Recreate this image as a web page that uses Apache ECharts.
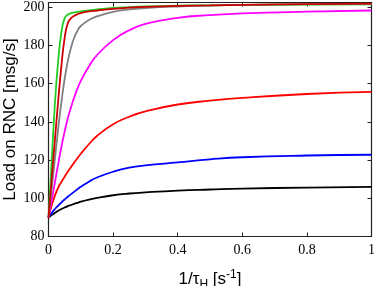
<!DOCTYPE html>
<html>
<head>
<meta charset="utf-8">
<script src="https://cdn.jsdelivr.net/npm/echarts@6/dist/echarts.min.js"></script>
<style>
html,body{margin:0;padding:0;background:#fff;}
#chart{width:374px;height:286px;}
</style>
</head>
<body>
<div id="chart"></div>
<script>
var xs          = [0,    0.01,  0.02,  0.03,  0.04,  0.05,  0.06,  0.07,  0.08,  0.09,  0.1,   0.125, 0.15,  0.2,   0.25,  0.3,   0.4,   0.5,   0.6,   0.8,   1.0];
var blackVals   = [89.8, 91.2,  92.4,  93.5,  94.4,  95.2,  95.9,  96.5,  97.1,  97.65, 98.2,  99.3,  100.2, 101.6, 102.5, 103.1, 104.0, 104.6, 105.1, 105.6, 106.0];
var blueVals    = [89.8, 92.3,  94.4,  96.2,  97.9,  99.4,  100.8, 102.2, 103.5, 104.8, 106.0, 108.7, 110.9, 113.9, 116.0, 117.2, 118.8, 120.4, 121.5, 122.4, 122.8];
var redVals     = [89.8, 96.3,  101.5, 105.6, 108.6, 111.3, 114.0, 116.4, 118.8, 121.1, 123.3, 128.3, 132.6, 138.8, 142.7, 145.5, 149.1, 151.1, 152.6, 154.6, 155.7];
var magentaVals = [89.8, 99.0,  108.5, 118.0, 127.0, 135.0, 142.0, 147.8, 153.0, 157.5, 161.5, 169.0, 175.0, 182.8, 188.0, 191.3, 194.5, 195.9, 196.8, 197.7, 198.3];
var grayVals    = [89.8, 105.0, 121.0, 136.5, 150.5, 162.5, 172.0, 179.0, 184.3, 187.8, 190.2, 193.3, 195.2, 197.6, 198.9, 199.6, 200.4, 200.9, 201.2, 201.6, 201.8];
var darkRedVals = [89.8, 110.5, 131.0, 151.0, 169.5, 184.0, 191.8, 194.3, 195.6, 196.4, 197.0, 197.8, 198.3, 199.2, 199.8, 200.2, 200.7, 201.0, 201.3, 201.6, 201.9];
var greenVals   = [89.8, 120.0, 150.0, 172.0, 187.0, 194.3, 196.2, 196.9, 197.3, 197.6, 197.8, 198.4, 198.9, 199.7, 200.1, 200.4, 200.8, 201.0, 201.2, 201.4, 201.5];
var xTicks = ['0', '0.2', '0.4', '0.6', '0.8', '1'];
var yTicks = ['80', '100', '120', '140', '160', '180', '200'];

function pairs(vals){ return xs.map(function(x,i){ return [x, vals[i]]; }); }

var seriesDefs = [
  {name:'black', color:'#000000', vals:blackVals},
  {name:'blue', color:'#0000ff', vals:blueVals},
  {name:'red', color:'#ff0000', vals:redVals},
  {name:'magenta', color:'#ff00ff', vals:magentaVals},
  {name:'green', color:'#22cc22', vals:greenVals},
  {name:'gray', color:'#808080', vals:grayVals},
  {name:'darkred', color:'#cc0000', vals:darkRedVals}
];

var serif = '"Liberation Serif","Times New Roman",serif';
var sans = '"Liberation Sans",Arial,sans-serif';
var frame = {show:true, onZero:false, lineStyle:{color:'#222', width:1.2}};

var chart = echarts.init(document.getElementById('chart'), null, {renderer:'canvas'});
chart.setOption({
  animation:false,
  backgroundColor:'#fff',
  grid:{left:48.5, right:2.5, top:2.5, bottom:49.5, containLabel:false, outerBoundsMode:'none'},
  xAxis:[{
    type:'value', min:0, max:1, interval:0.2, position:'bottom',
    axisLine:frame, splitLine:{show:false},
    axisTick:{show:true, inside:true, length:4, lineStyle:{color:'#222'}},
    axisLabel:{margin:7, color:'#000', fontFamily:serif, fontSize:14,
      formatter:function(v){ var i=Math.round(v/0.2); return Math.abs(v-i*0.2)<1e-6 ? xTicks[i] : ''; }},
    name:'1/τ{sub|H} [s{sup|-1}]', nameLocation:'middle', nameGap:32, nameMoveOverlap:false,
    nameTextStyle:{color:'#000', fontFamily:sans, fontSize:17,
      rich:{sub:{fontFamily:sans, fontSize:12, verticalAlign:'bottom', padding:[10,0,0,0]},
            sup:{fontFamily:sans, fontSize:12, verticalAlign:'top', padding:[0,0,10,0]}}}
  },{
    type:'value', min:0, max:1, interval:0.2, position:'top',
    axisLine:frame, splitLine:{show:false},
    axisTick:{show:true, inside:true, length:4, lineStyle:{color:'#222'}},
    axisLabel:{show:false}
  }],
  yAxis:[{
    type:'value', min:80, max:202.5, interval:20, position:'left',
    axisLine:frame, splitLine:{show:false},
    axisTick:{show:true, inside:true, length:4, lineStyle:{color:'#222'}},
    axisLabel:{margin:4, color:'#000', fontFamily:serif, fontSize:14,
      formatter:function(v){ var i=Math.round((v-80)/20); return Math.abs(v-80-i*20)<1e-6 ? yTicks[i] : ''; }},
    name:'Load on RNC [msg/s]', nameLocation:'middle', nameGap:30, nameMoveOverlap:false,
    nameTextStyle:{color:'#000', fontFamily:sans, fontSize:17}
  },{
    type:'value', min:80, max:202.5, interval:20, position:'right',
    axisLine:frame, splitLine:{show:false},
    axisTick:{show:true, inside:true, length:4, lineStyle:{color:'#222'}},
    axisLabel:{show:false}
  }],
  series: seriesDefs.map(function(s){
    return {type:'line', name:s.name, data:pairs(s.vals), smooth:0.5,
      showSymbol:false, symbol:'none', lineStyle:{color:s.color, width:1.8}, itemStyle:{color:s.color}};
  })
});
</script>
</body>
</html>
